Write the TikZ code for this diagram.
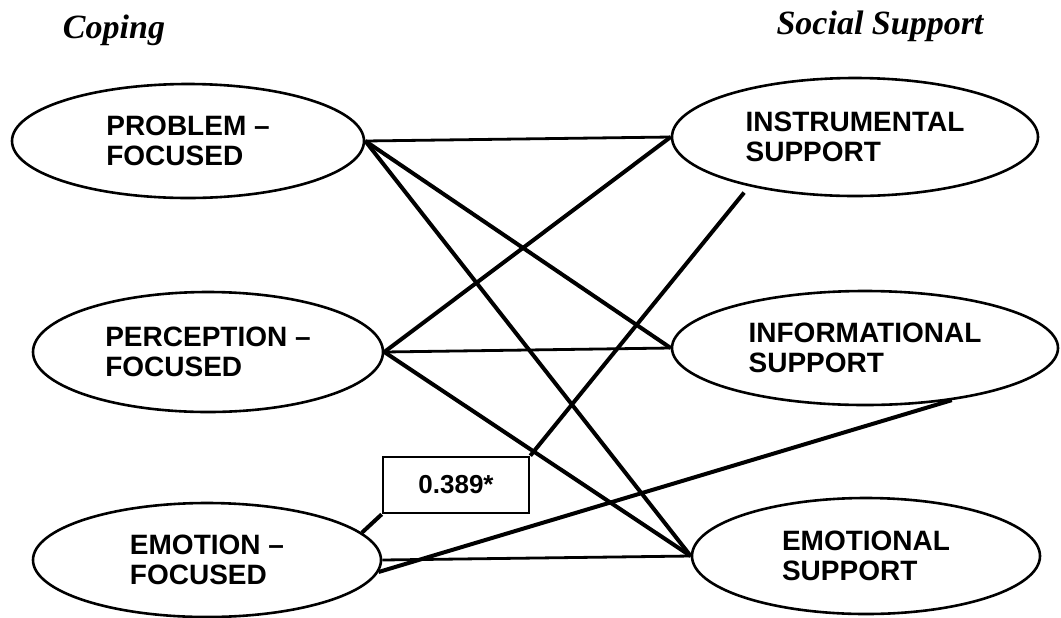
\documentclass[tikz,border=0pt]{standalone}
\usepackage{fontspec}
\setmainfont{Liberation Sans}
\newfontfamily\headfont{Liberation Serif}
\usetikzlibrary{shapes.geometric}

\begin{document}
\begin{tikzpicture}[x=0.5pt,y=-0.5pt,
	factor/.style={draw,ellipse,line width=1.3pt,inner sep=0pt,align=left,
		font=\bfseries\fontsize{14}{15}\selectfont},
	heading/.style={anchor=base,font=\headfont\bfseries\itshape\fontsize{17}{20}\selectfont},
	heavy/.style={line width=2pt},
	light/.style={line width=1.4pt},
	coefbox/.style={draw,line width=1.3pt,minimum width=73pt,minimum height=28pt,
		font=\bfseries\fontsize{13}{15}\selectfont}]
	\useasboundingbox (0,0) rectangle (1061,617);

	\node[heading] (copinghead) at (114,38) {Coping};
	\node[heading] (supporthead) at (880,34) {Social Support};

	% coping
	\node[factor,minimum width=176pt,minimum height=57pt] (problem) at (188,141) {PROBLEM –\\FOCUSED};
	\node[factor,minimum width=175pt,minimum height=60pt] (perception) at (208,352) {PERCEPTION –\\FOCUSED};
	\node[factor,minimum width=174pt,minimum height=57pt] (emotion) at (207,560) {EMOTION –\\FOCUSED};

	% social support
	\node[factor,minimum width=183pt,minimum height=59pt] (instrumental) at (855,137) {INSTRUMENTAL\\SUPPORT};
	\node[factor,minimum width=193pt,minimum height=57pt] (informational) at (865,348) {INFORMATIONAL\\SUPPORT};
	\node[factor,minimum width=174pt,minimum height=58pt] (emotional) at (866,556) {EMOTIONAL\\SUPPORT};

	\node[coefbox] (coef) at (456,485) {0.389*};

	\draw[light] (problem.east) -- (instrumental.west);
	\draw[heavy] (problem.east) -- (informational.west);
	\draw[heavy] (problem.east) -- (emotional.west);

	\draw[heavy] (perception.east) -- (instrumental.west);
	\draw[light] (perception.east) -- (informational.west);
	\draw[heavy] (perception.east) -- (emotional.west);

	\draw[heavy] (emotion.10) -- (coef.south west);
	\draw[heavy,shorten >=4pt] (coef.north east) -- (instrumental.205);
	\draw[heavy] (emotion.-4) -- (informational.-31);
	\draw[light] (emotion.east) -- (emotional.west);
\end{tikzpicture}
\end{document}
